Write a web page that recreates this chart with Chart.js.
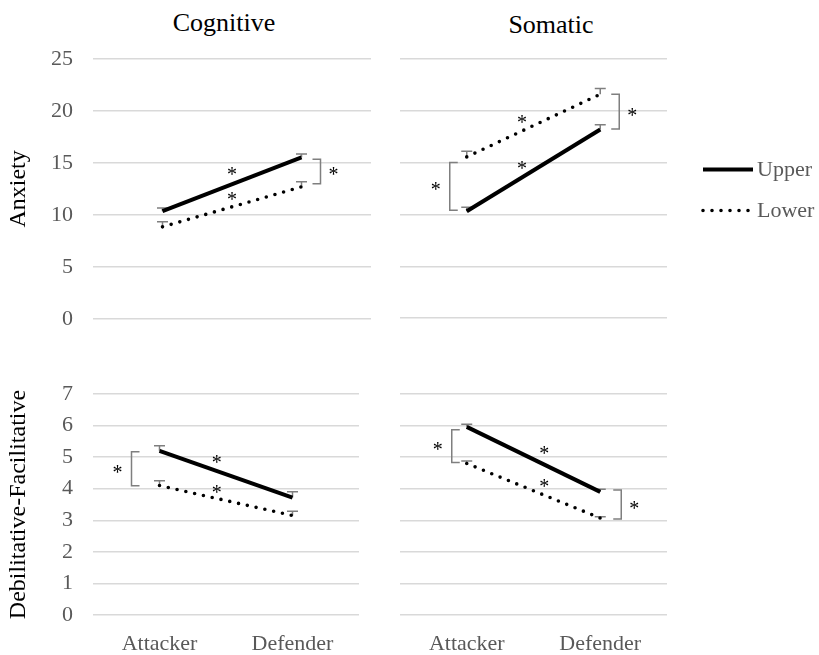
<!DOCTYPE html>
<html>
<head>
<meta charset="utf-8">
<script src="https://cdn.jsdelivr.net/npm/chart.js@4/dist/chart.umd.min.js"></script>
<style>
  html, body { margin: 0; padding: 0; background: #fff; }
  body { width: 819px; height: 655px; position: relative; overflow: hidden; font-family: 'Liberation Serif', 'Times New Roman', serif; }
  canvas { position: absolute; }
  .ttl { position: absolute; font-size: 26px; line-height: 26px; color: #000; transform: translateX(-50%); white-space: nowrap; }
</style>
</head>
<body>
<div class="ttl" style="left:224px; top:10px;">Cognitive</div>
<div class="ttl" style="left:551px; top:12px;">Somatic</div>
<canvas id="cogAnx" width="371" height="352" style="left:0; top:0;"></canvas>
<canvas id="somAnx" width="419" height="330" style="left:400px; top:0;"></canvas>
<canvas id="cogDF" width="371" height="295" style="left:0; top:360px;"></canvas>
<canvas id="somDF" width="300" height="295" style="left:400px; top:360px;"></canvas>
<script>
const categories = ['Attacker', 'Defender'];
const seriesNames = ['Upper', 'Lower'];

// Anxiety, cognitive
const cogAnxUpper = [10.36, 15.54];
const cogAnxLower = [8.85, 12.7];
const cogAnxUpperErr = [0.3, 0.32];
const cogAnxLowerErr = [0.48, 0.5];

// Anxiety, somatic
const somAnxUpper = [10.3, 18.2];
const somAnxLower = [15.55, 21.6];
const somAnxUpperErr = [0.4, 0.46];
const somAnxLowerErr = [0.55, 0.55];

// Debilitative-facilitative, cognitive
const cogDFUpper = [5.2, 3.72];
const cogDFLower = [4.1, 3.15];
const cogDFUpperErr = [0.16, 0.18];
const cogDFLowerErr = [0.15, 0.14];

// Debilitative-facilitative, somatic
const somDFUpper = [5.96, 3.9];
const somDFLower = [4.8, 3.07];
const somDFUpperErr = [0.08, 0.08];
const somDFLowerErr = [0.08, 0.04];

const anxTicks = [0, 5, 10, 15, 20, 25];
const dfTicks = [0, 1, 2, 3, 4, 5, 6, 7];

// group-difference brackets: [category index, value at top, value at bottom]
const cogAnxBrackets = [[1, 15.35, 13.0]];
const somAnxBrackets = [[0, 15.0, 10.4], [1, 21.6, 18.25]];
const cogDFBrackets = [[0, 5.17, 4.09]];
const somDFBrackets = [[0, 5.87, 4.83], [1, 3.96, 3.04]];

// role-difference stars along the lines: [category position, value]
const cogAnxStars = [[0.5, 14.2], [0.5, 11.83]];
const somAnxStars = [[0.414, 19.24], [0.414, 14.73]];
const cogDFStars = [[0.43, 4.93], [0.43, 4.0]];
const somDFStars = [[0.58, 5.22], [0.58, 4.17]];

const SERIF = "'Liberation Serif', 'Times New Roman', serif";
const GRID = '#d9d9d9';
const TICK = '#595959';
const ERR = '#7f7f7f';

function drawStar(ctx, x, y) {
  ctx.save();
  ctx.fillStyle = '#000';
  ctx.font = '20px ' + SERIF;
  ctx.textAlign = 'center';
  ctx.textBaseline = 'alphabetic';
  ctx.fillText('*', x, y + 10);
  ctx.restore();
}

// error caps (upper side only) under the lines
const errorBars = {
  id: 'errorBars',
  beforeDatasetsDraw(chart) {
    const ctx = chart.ctx, xs = chart.scales.x, ys = chart.scales.y;
    ctx.save();
    ctx.strokeStyle = ERR;
    ctx.lineWidth = 1.5;
    chart.data.datasets.forEach(ds => {
      ds.data.forEach((v, i) => {
        const x = xs.getPixelForValue(i);
        const y0 = ys.getPixelForValue(v);
        const y1 = ys.getPixelForValue(v + ds.errUp[i]);
        ctx.beginPath();
        ctx.moveTo(x, y0); ctx.lineTo(x, y1);
        ctx.moveTo(x - 5.5, y1); ctx.lineTo(x + 5.5, y1);
        ctx.stroke();
      });
    });
    ctx.restore();
  }
};

// brackets and significance stars
const sigMarks = {
  id: 'sigMarks',
  afterDatasetsDraw(chart, args, o) {
    const ctx = chart.ctx, xs = chart.scales.x, ys = chart.scales.y;
    ctx.save();
    ctx.strokeStyle = ERR;
    ctx.lineWidth = 1.5;
    (o.brackets || []).forEach((b, k) => {
      const dx = o.bracketDx[k];
      const x = xs.getPixelForValue(b[0]) + dx;
      const ya = ys.getPixelForValue(b[1]);
      const yb = ys.getPixelForValue(b[2]);
      const t = dx < 0 ? 8 : -8;
      ctx.beginPath();
      ctx.moveTo(x + t, ya); ctx.lineTo(x, ya); ctx.lineTo(x, yb); ctx.lineTo(x + t, yb);
      ctx.stroke();
      drawStar(ctx, x + (dx < 0 ? -14 : 13), (ya + yb) / 2);
    });
    (o.stars || []).forEach(s => {
      drawStar(ctx, xs.getPixelForValue(s[0]), ys.getPixelForValue(s[1]));
    });
    ctx.restore();
  }
};

// series key to the right of the upper-right panel
const seriesKey = {
  id: 'seriesKey',
  afterDraw(chart, args, o) {
    if (!o.show) return;
    const ctx = chart.ctx;
    const x0 = chart.chartArea.right + 36, x1 = x0 + 50;
    const rows = [169.5, 210.5];
    ctx.save();
    chart.data.datasets.forEach((ds, i) => {
      ctx.strokeStyle = ds.borderColor;
      ctx.lineWidth = ds.borderWidth;
      ctx.lineCap = ds.borderCapStyle || 'butt';
      ctx.setLineDash(ds.borderDash || []);
      ctx.beginPath();
      ctx.moveTo(x0, rows[i]); ctx.lineTo(x1, rows[i]);
      ctx.stroke();
      ctx.setLineDash([]);
      ctx.fillStyle = TICK;
      ctx.font = '22px ' + SERIF;
      ctx.textAlign = 'left';
      ctx.textBaseline = 'middle';
      ctx.fillText(ds.label, x1 + 4, rows[i] + 1);
    });
    ctx.restore();
  }
};

function datasets(upper, lower, upperErr, lowerErr) {
  return [
    { label: seriesNames[0], data: upper, errUp: upperErr, borderColor: '#000', borderWidth: 4,
      pointRadius: 0, tension: 0, fill: false, borderCapStyle: 'butt' },
    { label: seriesNames[1], data: lower, errUp: lowerErr, borderColor: '#000', borderWidth: 3.6,
      borderDash: [0, 9], borderCapStyle: 'round', pointRadius: 0, tension: 0, fill: false }
  ];
}

function makePanel(id, cfg) {
  const yScale = {
    min: cfg.ticks[0], max: cfg.ticks[cfg.ticks.length - 1],
    afterBuildTicks: s => { s.ticks = cfg.ticks.map(v => ({ value: v })); },
    afterFit: s => { s.width = cfg.yWidth; },
    grid: { color: GRID, lineWidth: 1.4, drawTicks: false },
    border: { display: false },
    ticks: { display: cfg.showTicks, color: TICK, padding: 20, font: { family: SERIF, size: 22 } },
    title: { display: !!cfg.yTitle, text: cfg.yTitle || '', color: '#000', padding: { top: 4, bottom: 0 },
             font: { family: SERIF, size: 24 } }
  };
  const xScale = {
    type: 'category', offset: true, display: cfg.showX,
    grid: { display: false }, border: { display: false },
    ticks: { color: TICK, padding: 8, font: { family: SERIF, size: 22 } }
  };
  if (cfg.showX) xScale.afterFit = s => { s.height = 40; };
  return new Chart(document.getElementById(id), {
    type: 'line',
    data: { labels: categories, datasets: cfg.datasets },
    options: {
      responsive: false, animation: false, events: [],
      layout: { padding: cfg.padding },
      scales: { x: xScale, y: yScale },
      plugins: {
        legend: { display: false }, tooltip: { enabled: false },
        sigMarks: { brackets: cfg.brackets, bracketDx: cfg.bracketDx, stars: cfg.stars },
        seriesKey: { show: !!cfg.key }
      }
    },
    plugins: [errorBars, sigMarks, seriesKey]
  });
}

makePanel('cogAnx', {
  datasets: datasets(cogAnxUpper, cogAnxLower, cogAnxUpperErr, cogAnxLowerErr),
  ticks: anxTicks, yTitle: 'Anxiety', showTicks: true, yWidth: 93, showX: false,
  padding: { top: 59, bottom: 12, left: 0, right: 0 },
  brackets: cogAnxBrackets, bracketDx: [19], stars: cogAnxStars
});

makePanel('somAnx', {
  datasets: datasets(somAnxUpper, somAnxLower, somAnxUpperErr, somAnxLowerErr),
  ticks: anxTicks, showTicks: false, yWidth: 0, showX: false, key: true,
  padding: { top: 59, bottom: 12, left: 0, right: 152 },
  brackets: somAnxBrackets, bracketDx: [-17, 19], stars: somAnxStars
});

makePanel('cogDF', {
  datasets: datasets(cogDFUpper, cogDFLower, cogDFUpperErr, cogDFLowerErr),
  ticks: dfTicks, yTitle: 'Debilitative-Facilitative', showTicks: true, yWidth: 93, showX: true,
  padding: { top: 34, bottom: 0, left: 0, right: 12 },
  brackets: cogDFBrackets, bracketDx: [-28], stars: cogDFStars
});

makePanel('somDF', {
  datasets: datasets(somDFUpper, somDFLower, somDFUpperErr, somDFLowerErr),
  ticks: dfTicks, showTicks: false, yWidth: 0, showX: true,
  padding: { top: 34, bottom: 0, left: 0, right: 33 },
  brackets: somDFBrackets, bracketDx: [-15, 21], stars: somDFStars
});
</script>
</body>
</html>
